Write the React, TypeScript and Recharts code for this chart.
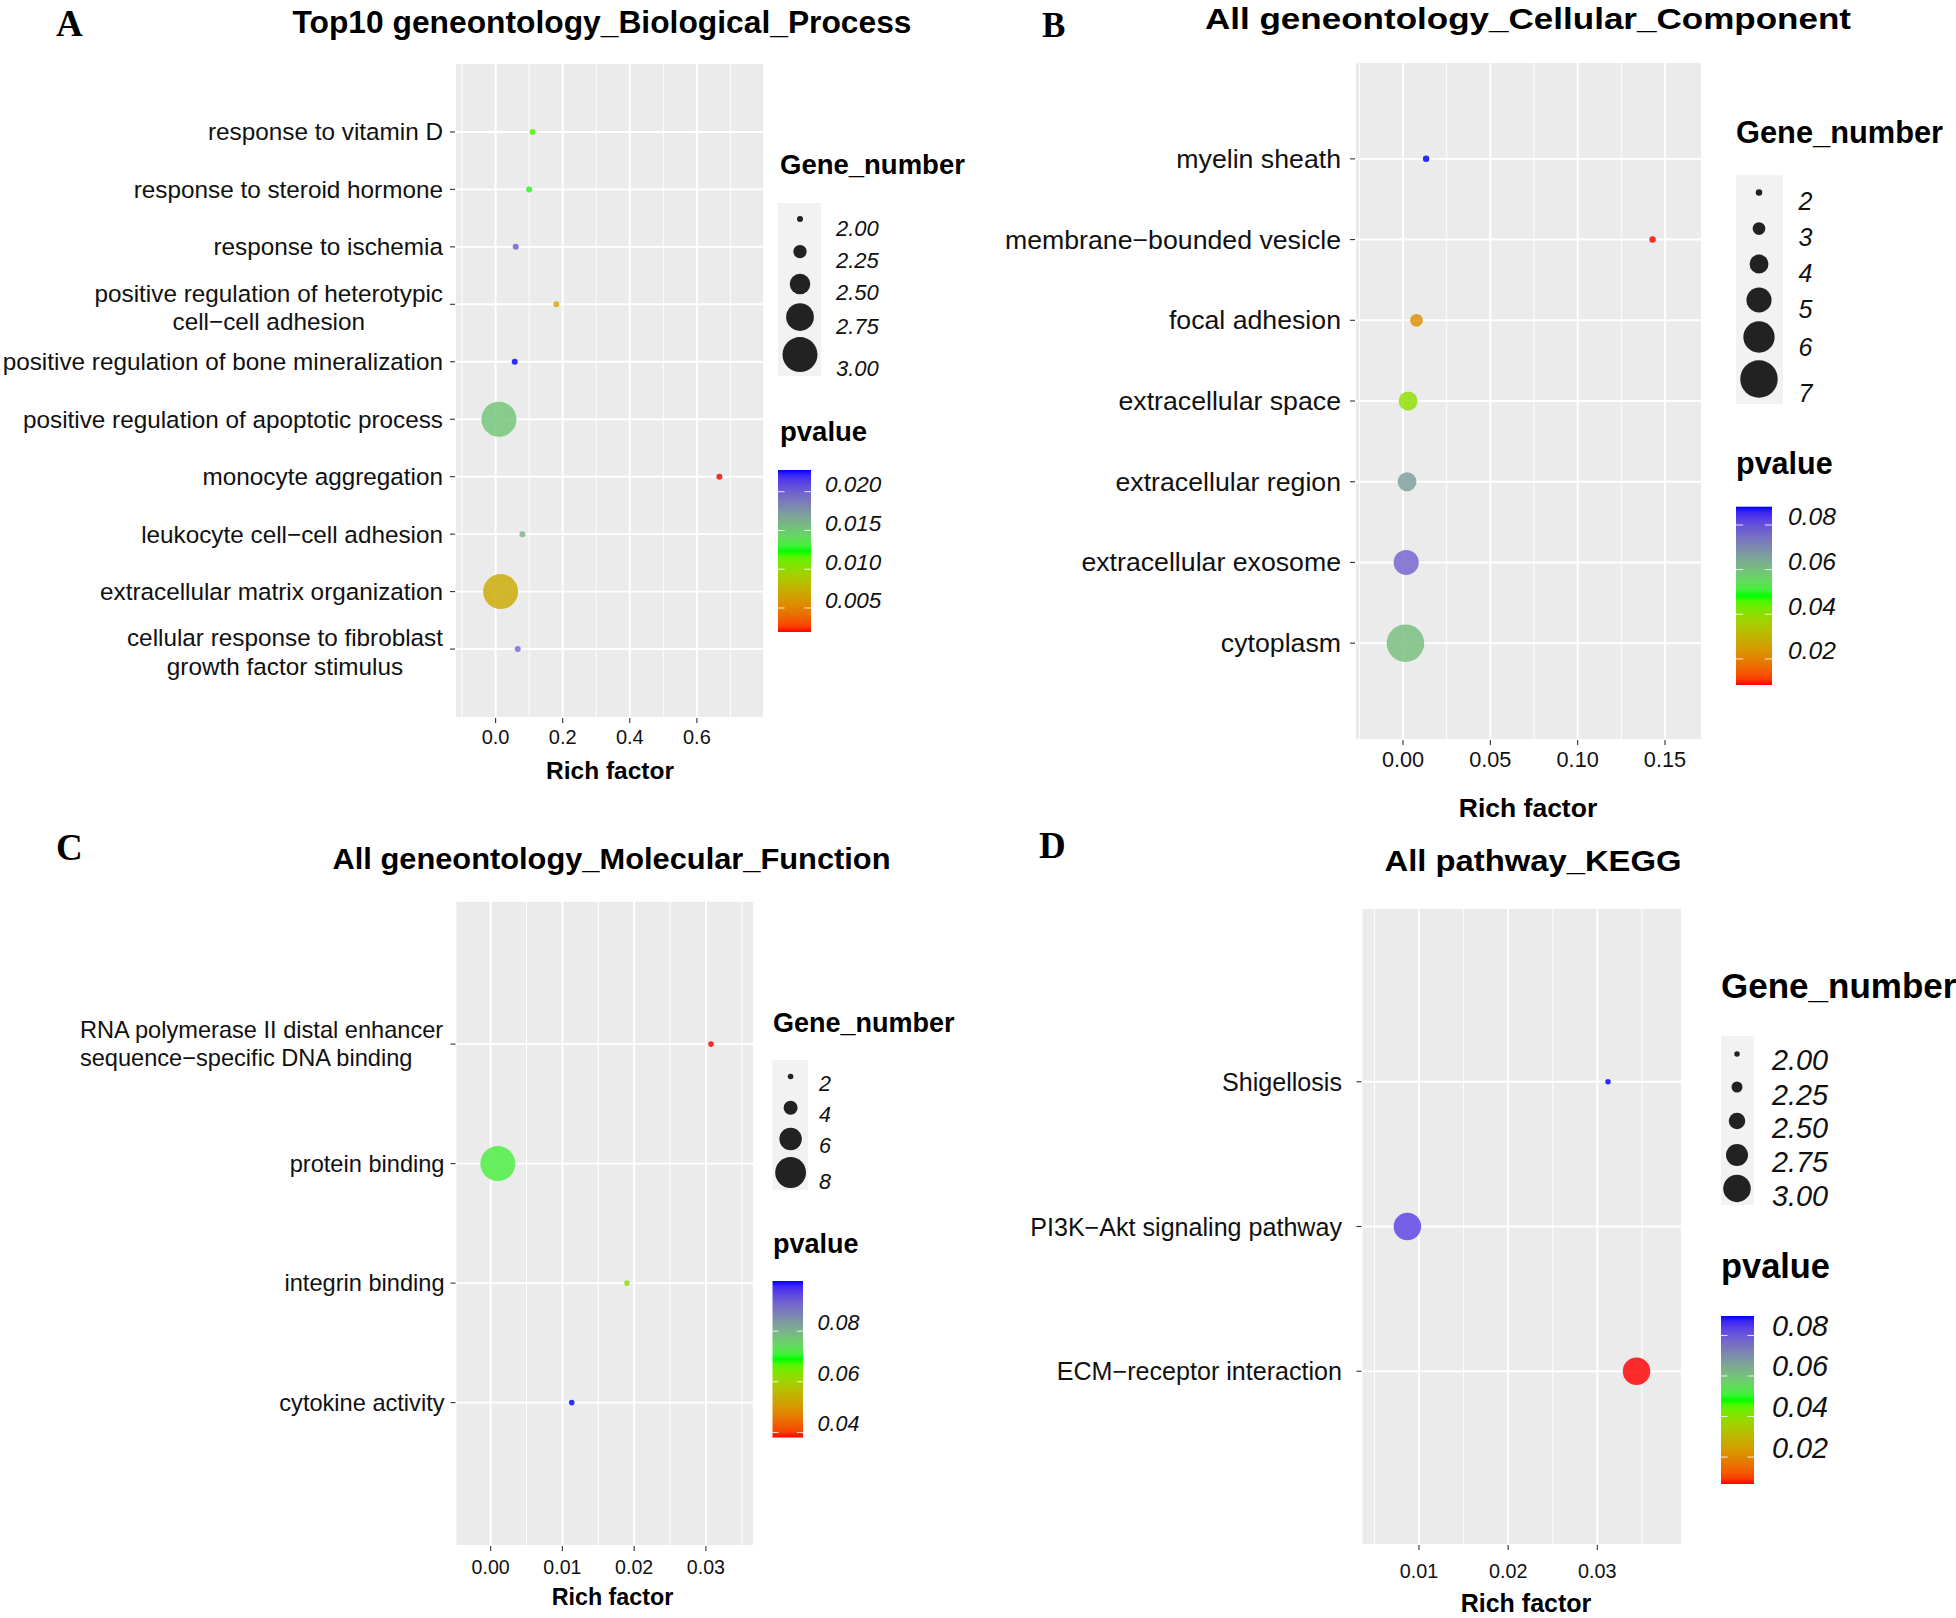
import React from 'react';
import { CartesianGrid, Scatter, ScatterChart, XAxis, YAxis } from 'recharts';

// ---- A: GO biological process (top 10) ----
const bpTerms = [
  'response to vitamin D',
  'response to steroid hormone',
  'response to ischemia',
  'positive regulation of heterotypic\ncell\u2212cell adhesion',
  'positive regulation of bone mineralization',
  'positive regulation of apoptotic process',
  'monocyte aggregation',
  'leukocyte cell\u2212cell adhesion',
  'extracellular matrix organization',
  'cellular response to fibroblast\ngrowth factor stimulus',
];
const bpRichFactor = [0.11, 0.1, 0.06, 0.181, 0.057, 0.01, 0.667, 0.08, 0.015, 0.066];
const bpGeneNumber = [2, 2, 2, 2, 2, 3, 2, 2, 3, 2];
const bpPvalue = [0.0117, 0.0125, 0.0202, 0.0071, 0.0228, 0.0152, 0.0019, 0.016, 0.007, 0.0195];
const bpRichTicks = [0, 0.2, 0.4, 0.6];
const bpSizeBreaks = [2, 2.25, 2.5, 2.75, 3];
const bpPvalueBreaks = [0.005, 0.01, 0.015, 0.02];

// ---- B: GO cellular component ----
const ccTerms = [
  'myelin sheath',
  'membrane\u2212bounded vesicle',
  'focal adhesion',
  'extracellular space',
  'extracellular region',
  'extracellular exosome',
  'cytoplasm',
];
const ccRichFactor = [0.0132, 0.1429, 0.0077, 0.0029, 0.0023, 0.0018, 0.0014];
const ccGeneNumber = [2, 2, 3, 4, 4, 5, 7];
const ccPvalue = [0.0882, 0.0083, 0.0223, 0.0403, 0.0662, 0.077, 0.0605];
const ccRichTicks = [0, 0.05, 0.1, 0.15];
const ccSizeBreaks = [2, 3, 4, 5, 6, 7];
const ccPvalueBreaks = [0.02, 0.04, 0.06, 0.08];

// ---- C: GO molecular function ----
const mfTerms = [
  'RNA polymerase II distal enhancer\nsequence\u2212specific DNA binding',
  'protein binding',
  'integrin binding',
  'cytokine activity',
];
const mfRichFactor = [0.0307, 0.001, 0.019, 0.0113];
const mfGeneNumber = [2, 9, 2, 2];
const mfPvalue = [0.038, 0.0714, 0.062, 0.0998];
const mfRichTicks = [0, 0.01, 0.02, 0.03];
const mfSizeBreaks = [2, 4, 6, 8];
const mfPvalueBreaks = [0.04, 0.06, 0.08];

// ---- D: KEGG pathways ----
const keggTerms = ['Shigellosis', 'PI3K\u2212Akt signaling pathway', 'ECM\u2212receptor interaction'];
const keggRichFactor = [0.0312, 0.0087, 0.0344];
const keggGeneNumber = [2, 3, 3];
const keggPvalue = [0.0896, 0.0834, 0.0067];
const keggRichTicks = [0.01, 0.02, 0.03];
const keggSizeBreaks = [2, 2.25, 2.5, 2.75, 3];
const keggPvalueBreaks = [0.02, 0.04, 0.06, 0.08];

const SANS = '"Liberation Sans", Arial, Helvetica, sans-serif';
const SERIF = '"Liberation Serif", "Times New Roman", serif';
const PANEL_BG = '#EBEBEB';
const KEY_BG = '#F2F2F2';
const TICK = '#333333';
const INK = '#111111';
const GRADIENT = ['#FF0000', '#00FF00', '#0000FF'];

// ggplot-style gradient: interpolate in CIE Lab
const toLin = (c: number) => {
  const v = c / 255;
  return v <= 0.04045 ? v / 12.92 : Math.pow((v + 0.055) / 1.055, 2.4);
};
const fromLin = (c: number) => {
  const v = c <= 0.0031308 ? 12.92 * c : 1.055 * Math.pow(c, 1 / 2.4) - 0.055;
  return Math.round(Math.max(0, Math.min(1, v)) * 255);
};
const WX = 0.95047;
const WZ = 1.08883;
const fLab = (t: number) => (t > 216 / 24389 ? Math.cbrt(t) : (24389 / 27 * t + 16) / 116);
const fInv = (t: number) => (t * t * t > 216 / 24389 ? t * t * t : (116 * t - 16) / (24389 / 27));

function hexToLab(hex: string) {
  const r = toLin(parseInt(hex.slice(1, 3), 16));
  const g = toLin(parseInt(hex.slice(3, 5), 16));
  const b = toLin(parseInt(hex.slice(5, 7), 16));
  const X = (0.4124564 * r + 0.3575761 * g + 0.1804375 * b) / WX;
  const Y = 0.2126729 * r + 0.7151522 * g + 0.072175 * b;
  const Z = (0.0193339 * r + 0.119192 * g + 0.9503041 * b) / WZ;
  const fx = fLab(X), fy = fLab(Y), fz = fLab(Z);
  return [116 * fy - 16, 500 * (fx - fy), 200 * (fy - fz)];
}

function labToHex([L, a, b]: number[]) {
  const fy = (L + 16) / 116;
  const X = fInv(fy + a / 500) * WX;
  const Y = fInv(fy);
  const Z = fInv(fy - b / 200) * WZ;
  const r = fromLin(3.2404542 * X - 1.5371385 * Y - 0.4985314 * Z);
  const g = fromLin(-0.969266 * X + 1.8760108 * Y + 0.041556 * Z);
  const bl = fromLin(0.0556434 * X - 0.2040259 * Y + 1.0572252 * Z);
  return '#' + [r, g, bl].map((v) => v.toString(16).padStart(2, '0')).join('');
}

const GRADIENT_LAB = GRADIENT.map(hexToLab);

function gradColor(t: number) {
  const s = Math.max(0, Math.min(1, t)) * (GRADIENT_LAB.length - 1);
  const i = Math.min(GRADIENT_LAB.length - 2, Math.floor(s));
  const f = s - i;
  const a = GRADIENT_LAB[i];
  const b = GRADIENT_LAB[i + 1];
  return labToHex(a.map((v, k) => v + (b[k] - v) * f));
}

const extent = (arr: number[]) => [Math.min(...arr), Math.max(...arr)];

let measureCtx: CanvasRenderingContext2D | null = null;
function textWidth(s: string, size: number) {
  if (!measureCtx) measureCtx = document.createElement('canvas').getContext('2d');
  if (!measureCtx) return s.length * size * 0.5;
  measureCtx.font = `${size}px "Liberation Sans"`;
  return measureCtx.measureText(s).width;
}

type Rect = { x: number; y: number; w: number; h: number };

type PanelSpec = {
  id: string;
  letter: string;
  letterPos: [number, number, number];
  title: string;
  titlePos: [number, number, number, number]; // centre x, baseline, width, size
  terms: string[];
  rich: number[];
  genes: number[];
  pvals: number[];
  xTicks: number[];
  xDigits: number;
  xDomain: [number, number];
  box: { left: number; top: number; width: number; height: number };
  plot: { x0: number; y0: number; x1: number; y1: number };
  yLabelSize: number;
  yLabelGap: number;
  lineH: number;
  multiAlign: 'middle' | 'start';
  multiShift: number;
  xLabelSize: number;
  xLabelY: number;
  axisTitle: [number, number, number];
  dia: [number, number];
  sizeBreaks: number[];
  sizeDigits: number;
  sizeLegend: {
    titleX: number; titleY: number; titleSize: number; key: Rect; cx: number;
    circleY: number[]; labelX: number; labelY: number[]; labelSize: number;
  };
  pBreaks: number[];
  pDigits: number;
  colorLegend: {
    titleX: number; titleY: number; titleSize: number; bar: Rect;
    labelX: number; labelShift: number; labelSize: number;
  };
};

const panels: PanelSpec[] = [
  {
    id: 'bp',
    letter: 'A',
    letterPos: [56, 36, 37],
    title: 'Top10 geneontology_Biological_Process',
    titlePos: [602, 33, 619, 31],
    terms: bpTerms, rich: bpRichFactor, genes: bpGeneNumber, pvals: bpPvalue,
    xTicks: bpRichTicks, xDigits: 1, xDomain: [-0.121, 0.8],
    box: { left: 0, top: 0, width: 770, height: 760 },
    plot: { x0: 455, y0: 63, x1: 764, y1: 718 },
    yLabelSize: 24.3, yLabelGap: 12, lineH: 28.5, multiAlign: 'middle', multiShift: 3,
    xLabelSize: 20, xLabelY: 737,
    axisTitle: [610, 770, 24.5],
    dia: [6, 35],
    sizeBreaks: bpSizeBreaks, sizeDigits: 2,
    sizeLegend: {
      titleX: 780, titleY: 164, titleSize: 27.5, key: { x: 778, y: 203, w: 43, h: 173 }, cx: 800,
      circleY: [219, 251.5, 284, 317, 354.6], labelX: 836, labelY: [228, 260, 292, 326, 368], labelSize: 22,
    },
    pBreaks: bpPvalueBreaks, pDigits: 3,
    colorLegend: {
      titleX: 780, titleY: 431, titleSize: 27.5, bar: { x: 778, y: 470, w: 33, h: 162 },
      labelX: 825, labelShift: 7, labelSize: 22.5,
    },
  },
  {
    id: 'cc',
    letter: 'B',
    letterPos: [1042, 37, 35],
    title: 'All geneontology_Cellular_Component',
    titlePos: [1528, 29, 646, 30],
    terms: ccTerms, rich: ccRichFactor, genes: ccGeneNumber, pvals: ccPvalue,
    xTicks: ccRichTicks, xDigits: 2, xDomain: [-0.0275, 0.1712],
    box: { left: 980, top: 0, width: 728, height: 785 },
    plot: { x0: 1355, y0: 62, x1: 1702, y1: 740 },
    yLabelSize: 26.7, yLabelGap: 14, lineH: 30, multiAlign: 'middle', multiShift: 0,
    xLabelSize: 21.7, xLabelY: 759.4,
    axisTitle: [1528, 808, 26.5],
    dia: [6.5, 37.5],
    sizeBreaks: ccSizeBreaks, sizeDigits: 0,
    sizeLegend: {
      titleX: 1736, titleY: 132, titleSize: 30.8, key: { x: 1736, y: 175, w: 47, h: 229 }, cx: 1759,
      circleY: [192.5, 228.6, 264, 300, 337, 379], labelX: 1798.5,
      labelY: [201, 237, 272.5, 308.6, 347, 393], labelSize: 25,
    },
    pBreaks: ccPvalueBreaks, pDigits: 2,
    colorLegend: {
      titleX: 1736, titleY: 463, titleSize: 30.5, bar: { x: 1736, y: 506.7, w: 36, h: 178.3 },
      labelX: 1788, labelShift: 8, labelSize: 24.6,
    },
  },
  {
    id: 'mf',
    letter: 'C',
    letterPos: [56, 860, 37],
    title: 'All geneontology_Molecular_Function',
    titlePos: [611.5, 869, 558, 30],
    terms: mfTerms, rich: mfRichFactor, genes: mfGeneNumber, pvals: mfPvalue,
    xTicks: mfRichTicks, xDigits: 2, xDomain: [-0.0049, 0.0367],
    box: { left: 0, top: 800, width: 760, height: 790 },
    plot: { x0: 455.5, y0: 900.7, x1: 754, y1: 1546 },
    yLabelSize: 23.6, yLabelGap: 11, lineH: 28.5, multiAlign: 'start', multiShift: 0,
    xLabelSize: 19.6, xLabelY: 1566.8,
    axisTitle: [612.5, 1596.5, 23.3],
    dia: [5.6, 35],
    sizeBreaks: mfSizeBreaks, sizeDigits: 0,
    sizeLegend: {
      titleX: 773, titleY: 1023, titleSize: 27, key: { x: 772.5, y: 1060, w: 35.5, h: 130 }, cx: 790.6,
      circleY: [1076.5, 1107.8, 1139, 1172.5], labelX: 819, labelY: [1084, 1115, 1146, 1182], labelSize: 21.5,
    },
    pBreaks: mfPvalueBreaks, pDigits: 2,
    colorLegend: {
      titleX: 773, titleY: 1244, titleSize: 27, bar: { x: 772.5, y: 1281, w: 30.5, h: 156.5 },
      labelX: 817.5, labelShift: 8, labelSize: 21.5,
    },
  },
  {
    id: 'kegg',
    letter: 'D',
    letterPos: [1039, 858, 37],
    title: 'All pathway_KEGG',
    titlePos: [1533, 871, 297, 30],
    terms: keggTerms, rich: keggRichFactor, genes: keggGeneNumber, pvals: keggPvalue,
    xTicks: keggRichTicks, xDigits: 2, xDomain: [0.00355, 0.0395],
    box: { left: 980, top: 800, width: 708, height: 790 },
    plot: { x0: 1361.5, y0: 908, x1: 1682, y1: 1545 },
    yLabelSize: 25.1, yLabelGap: 19.5, lineH: 30, multiAlign: 'middle', multiShift: 0,
    xLabelSize: 19.8, xLabelY: 1570.6,
    axisTitle: [1526, 1603, 25],
    dia: [5.5, 27.5],
    sizeBreaks: keggSizeBreaks, sizeDigits: 2,
    sizeLegend: {
      titleX: 1721, titleY: 985, titleSize: 35, key: { x: 1721, y: 1036, w: 33, h: 169 }, cx: 1737,
      circleY: [1054, 1087, 1121, 1155, 1188.4], labelX: 1772,
      labelY: [1060, 1095, 1128, 1162, 1195.6], labelSize: 28.8,
    },
    pBreaks: keggPvalueBreaks, pDigits: 2,
    colorLegend: {
      titleX: 1721, titleY: 1266, titleSize: 34.4, bar: { x: 1721, y: 1316, w: 33, h: 168 },
      labelX: 1772, labelShift: 9.5, labelSize: 28.8,
    },
  },
];

// diameter grows linearly with gene number between the panel's min and max
function diameter(spec: PanelSpec, g: number) {
  const [g0, g1] = extent(spec.genes);
  const t = g1 === g0 ? 1 : (g - g0) / (g1 - g0);
  return spec.dia[0] + t * (spec.dia[1] - spec.dia[0]);
}

function pColor(spec: PanelSpec, p: number) {
  const [p0, p1] = extent(spec.pvals);
  return gradColor((p - p0) / (p1 - p0));
}

function minorTicks(ticks: number[], domain: [number, number]) {
  const step = ticks[1] - ticks[0];
  const out: number[] = [];
  for (let v = ticks[0] - step / 2; v <= domain[1]; v += step) {
    if (v >= domain[0]) out.push(+v.toFixed(6));
  }
  return out;
}

function Panel({ spec }: { spec: PanelSpec }) {
  const { box, plot } = spec;
  const rows = spec.terms.map((t, i) => ({
    term: t, x: spec.rich[i], y: i + 1, gene: spec.genes[i], p: spec.pvals[i],
  }));
  const n = spec.terms.length;
  const yTicks = spec.terms.map((_, i) => i + 1);
  const margin = { top: plot.y0 - box.top, right: box.left + box.width - plot.x1, bottom: 0, left: 0 };
  const xAxisH = box.top + box.height - plot.y1;
  const yAxisW = plot.x0 - box.left;
  const labelEnd = plot.x0 - box.left - spec.yLabelGap;

  const renderYTick = (p: any) => {
    const label = spec.terms[Math.round(p.payload.value) - 1];
    if (!label) return <g />;
    const lines = label.split('\n');
    const k = lines.length;
    let anchor: 'end' | 'middle' | 'start' = 'end';
    let tx = labelEnd;
    if (k > 1) {
      const maxW = Math.max(...lines.map((l) => textWidth(l, spec.yLabelSize)));
      if (spec.multiAlign === 'middle') {
        anchor = 'middle';
        tx = labelEnd - maxW / 2;
      } else {
        anchor = 'start';
        tx = labelEnd - maxW;
      }
    }
    const shift = k > 1 ? spec.multiShift : 0;
    return (
      <g>
        {lines.map((l, i) => (
          <text
            key={i}
            x={tx}
            y={p.y + shift + (i - (k - 1) / 2) * spec.lineH}
            textAnchor={anchor}
            dominantBaseline="central"
            fontFamily={SANS}
            fontSize={spec.yLabelSize}
            fill={INK}
          >
            {l}
          </text>
        ))}
      </g>
    );
  };

  const renderXTick = (p: any) => (
    <text
      x={p.x}
      y={spec.xLabelY - box.top}
      textAnchor="middle"
      dominantBaseline="central"
      fontFamily={SANS}
      fontSize={spec.xLabelSize}
      fill={INK}
    >
      {Number(p.payload.value).toFixed(spec.xDigits)}
    </text>
  );

  return (
    <div style={{ position: 'absolute', left: box.left, top: box.top }}>
      <ScatterChart width={box.width} height={box.height} margin={margin}>
        <CartesianGrid
          fill={PANEL_BG}
          fillOpacity={1}
          stroke="#FFFFFF"
          strokeWidth={0.9}
          horizontal={false}
          verticalValues={minorTicks(spec.xTicks, spec.xDomain)}
        />
        <CartesianGrid stroke="#FFFFFF" strokeWidth={1.9} />
        <XAxis
          type="number"
          dataKey="x"
          domain={spec.xDomain}
          ticks={spec.xTicks}
          allowDataOverflow
          interval={0}
          height={xAxisH}
          axisLine={false}
          tickSize={5}
          tickLine={{ stroke: TICK, strokeWidth: 1.1 }}
          tick={renderXTick}
        />
        <YAxis
          type="number"
          dataKey="y"
          domain={[-0.2, n + 1.2]}
          reversed
          ticks={yTicks}
          allowDataOverflow
          interval={0}
          width={yAxisW}
          axisLine={false}
          tickSize={5}
          tickLine={{ stroke: TICK, strokeWidth: 1.1 }}
          tick={renderYTick}
        />
        <Scatter
          data={rows}
          isAnimationActive={false}
          shape={(p: any) => (
            <circle
              cx={p.cx}
              cy={p.cy}
              r={diameter(spec, p.payload.gene) / 2}
              fill={pColor(spec, p.payload.p)}
              fillOpacity={0.82}
            />
          )}
        />
      </ScatterChart>
    </div>
  );
}

function Decorations({ spec }: { spec: PanelSpec }) {
  const s = spec.sizeLegend;
  const c = spec.colorLegend;
  const [p0, p1] = extent(spec.pvals);
  const gid = `grad-${spec.id}`;
  const stops = Array.from({ length: 31 }, (_, i) => i / 30);
  const tickY = (v: number) => c.bar.y + (c.bar.h * (p1 - v)) / (p1 - p0);
  const [tx, ty, tw, ts] = spec.titlePos;
  return (
    <g>
      <text x={spec.letterPos[0]} y={spec.letterPos[1]} fontFamily={SERIF} fontWeight="bold" fontSize={spec.letterPos[2]} fill="#000">
        {spec.letter}
      </text>
      <text
        x={tx - tw / 2}
        y={ty}
        textLength={tw}
        lengthAdjust="spacingAndGlyphs"
        fontFamily={SANS}
        fontWeight="bold"
        fontSize={ts}
        fill="#000"
      >
        {spec.title}
      </text>
      <text
        x={spec.axisTitle[0]}
        y={spec.axisTitle[1]}
        textAnchor="middle"
        dominantBaseline="central"
        fontFamily={SANS}
        fontWeight="bold"
        fontSize={spec.axisTitle[2]}
        fill="#000"
      >
        Rich factor
      </text>

      {/* size legend */}
      <text x={s.titleX} y={s.titleY} dominantBaseline="central" fontFamily={SANS} fontWeight="bold" fontSize={s.titleSize} fill="#000">
        Gene_number
      </text>
      <rect x={s.key.x} y={s.key.y} width={s.key.w} height={s.key.h} fill={KEY_BG} />
      {spec.sizeBreaks.map((b, i) => (
        <g key={b}>
          <circle cx={s.cx} cy={s.circleY[i]} r={diameter(spec, b) / 2} fill="#222222" />
          <text
            x={s.labelX}
            y={s.labelY[i]}
            dominantBaseline="central"
            fontFamily={SANS}
            fontStyle="italic"
            fontSize={s.labelSize}
            fill={INK}
          >
            {b.toFixed(spec.sizeDigits)}
          </text>
        </g>
      ))}

      {/* colour bar */}
      <text x={c.titleX} y={c.titleY} dominantBaseline="central" fontFamily={SANS} fontWeight="bold" fontSize={c.titleSize} fill="#000">
        pvalue
      </text>
      <defs>
        <linearGradient id={gid} x1="0" y1="1" x2="0" y2="0">
          {stops.map((t) => (
            <stop key={t} offset={t} stopColor={gradColor(t)} />
          ))}
        </linearGradient>
      </defs>
      <rect x={c.bar.x} y={c.bar.y} width={c.bar.w} height={c.bar.h} fill={`url(#${gid})`} />
      {spec.pBreaks.map((b) => {
        const y = tickY(b);
        return (
          <g key={b}>
            <line x1={c.bar.x} x2={c.bar.x + c.bar.w * 0.2} y1={y} y2={y} stroke="#FFFFFF" strokeOpacity={0.85} strokeWidth={1} />
            <line x1={c.bar.x + c.bar.w * 0.8} x2={c.bar.x + c.bar.w} y1={y} y2={y} stroke="#FFFFFF" strokeOpacity={0.85} strokeWidth={1} />
            <text
              x={c.labelX}
              y={y - c.labelShift}
              dominantBaseline="central"
              fontFamily={SANS}
              fontStyle="italic"
              fontSize={c.labelSize}
              fill={INK}
            >
              {b.toFixed(spec.pDigits)}
            </text>
          </g>
        );
      })}
    </g>
  );
}

export default function App() {
  return (
    <div style={{ position: 'relative', width: 1956, height: 1618, background: '#FFFFFF', overflow: 'hidden' }}>
      <style>{'body{margin:0}'}</style>
      {panels.map((p) => (
        <Panel key={p.id} spec={p} />
      ))}
      <svg
        width={1956}
        height={1618}
        style={{ position: 'absolute', left: 0, top: 0, pointerEvents: 'none' }}
      >
        {panels.map((p) => (
          <Decorations key={p.id} spec={p} />
        ))}
      </svg>
    </div>
  );
}
